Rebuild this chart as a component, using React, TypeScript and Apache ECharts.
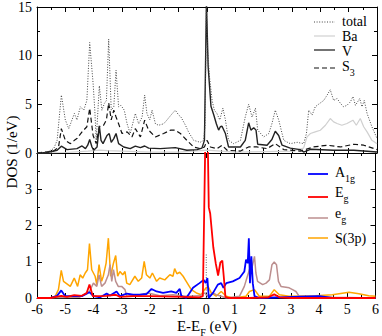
import React, { useEffect, useRef } from "react";
import * as echarts from "echarts";

// ---- Data (energy E-E_F in eV, DOS in 1/eV) ----
const totalDOS: [number, number][] = [
  [-6, 0], [-5.65, 0.1], [-5.41, 0.45], [-5.29, 1.3], [-5.14, 5.95], [-5.0, 3.4], [-4.88, 2.5], [-4.68, 4.06],
  [-4.59, 3.4], [-4.47, 4.75], [-4.35, 4.4], [-4.24, 5.4], [-4.14, 11.35], [-4.02, 7.15], [-3.96, 4.4], [-3.91, 1.3],
  [-3.8, 6.9], [-3.71, 4.4], [-3.62, 5.1], [-3.55, 5.4], [-3.47, 11.7], [-3.38, 4.4], [-3.29, 4.75], [-3.21, 8.5],
  [-3.12, 4.75], [-3.04, 4.9], [-2.92, 4.4], [-2.82, 3.0], [-2.71, 2.0], [-2.53, 4.06], [-2.41, 3.0], [-2.29, 3.7],
  [-2.2, 5.95], [-2.12, 4.06], [-2.02, 3.4], [-1.94, 4.4], [-1.82, 3.0], [-1.71, 2.85], [-1.53, 3.0], [-1.41, 3.4],
  [-1.27, 3.9], [-1.12, 4.4], [-1.0, 3.9], [-0.92, 3.7], [-0.76, 2.85], [-0.65, 2.15], [-0.47, 1.3], [-0.24, 1.1],
  [-0.12, 1.3], [-0.07, 2.7], [-0.02, 15.5], [0.02, 10.6], [0.09, 7.8], [0.18, 5.4], [0.26, 4.4], [0.35, 4.06],
  [0.45, 3.4], [0.56, 4.6], [0.65, 3.4], [0.76, 1.3], [0.94, 0.96], [1.18, 1.3], [1.35, 3.7], [1.47, 5.0],
  [1.59, 3.7], [1.71, 4.6], [1.79, 2.35], [2.0, 1.65], [2.18, 2.0], [2.29, 3.0], [2.41, 4.4], [2.53, 3.4],
  [2.71, 1.3], [2.94, 0.96], [3.18, 1.1], [3.41, 0.96], [3.51, 2.0], [3.59, 4.4], [3.71, 3.9], [3.82, 4.75],
  [3.98, 5.1], [4.12, 5.4], [4.24, 5.95], [4.35, 6.5], [4.47, 5.4], [4.59, 5.6], [4.71, 5.1], [4.82, 4.75],
  [4.94, 4.9], [5.06, 5.25], [5.15, 5.8], [5.24, 4.9], [5.39, 5.6], [5.47, 4.75], [5.55, 5.4], [5.65, 4.06],
  [5.82, 2.7], [6.0, 1.5],
];

const baDOS: [number, number][] = [
  [-6, 0], [-5.0, 0.05], [-4.2, 0.2], [-3.8, 0.3], [-3.5, 0.25], [-3.0, 0.2], [-2.0, 0.1], [-1.0, 0.1],
  [0, 0.3], [0.5, 0.2], [1.0, 0.1], [2.0, 0.15], [3.0, 0.2], [3.41, 0.5], [3.53, 1.65], [3.65, 2.0],
  [3.82, 2.17], [4.0, 2.34], [4.18, 2.85], [4.35, 3.54], [4.47, 3.2], [4.59, 3.03], [4.76, 2.85], [4.94, 3.03],
  [5.15, 3.37], [5.27, 2.85], [5.41, 3.54], [5.53, 2.7], [5.65, 2.17], [5.82, 1.3], [6.0, 0.96],
];

const vDOS: [number, number][] = [
  [-6, 0], [-5.65, 0.05], [-5.29, 0.28], [-5.14, 0.7], [-4.94, 0.35], [-4.59, 0.45], [-4.41, 0.72], [-4.29, 0.45],
  [-4.21, 0.8], [-4.14, 1.38], [-4.06, 0.62], [-4.0, 0.28], [-3.88, 0.62], [-3.8, 2.8], [-3.74, 1.3], [-3.67, 0.96],
  [-3.53, 1.8], [-3.45, 2.0], [-3.38, 1.1], [-3.29, 1.48], [-3.21, 2.0], [-3.12, 0.96], [-2.94, 0.62], [-2.71, 0.45],
  [-2.53, 0.7], [-2.35, 0.55], [-2.2, 0.72], [-2.06, 0.5], [-1.65, 0.45], [-1.12, 0.55], [-0.71, 0.28], [-0.35, 0.35],
  [-0.18, 0.5], [-0.09, 1.3], [-0.02, 15.5], [0.04, 8.9], [0.14, 4.8], [0.24, 3.9], [0.33, 3.0], [0.41, 2.35],
  [0.47, 2.7], [0.53, 2.75], [0.65, 2.0], [0.76, 0.62], [1.18, 0.62], [1.35, 1.3], [1.47, 3.1], [1.55, 2.35],
  [1.65, 2.6], [1.73, 2.35], [1.79, 0.9], [2.12, 0.8], [2.29, 1.38], [2.41, 2.24], [2.53, 1.8], [2.65, 0.8],
  [2.94, 0.5], [3.29, 0.35], [3.41, 0.1], [3.65, 0.38], [4.47, 0.28], [5.18, 0.28], [6.0, 0.1],
];

const s3DOS: [number, number][] = [
  [-6, 0], [-5.41, 0.2], [-5.24, 0.62], [-5.14, 2.5], [-5.0, 1.3], [-4.82, 0.96], [-4.68, 1.3], [-4.59, 1.48],
  [-4.41, 2.17], [-4.24, 2.7], [-4.14, 4.6], [-4.02, 1.8], [-3.91, 0.96], [-3.8, 2.7], [-3.65, 2.85], [-3.55, 3.4],
  [-3.47, 5.15], [-3.38, 3.4], [-3.29, 4.4], [-3.21, 3.7], [-3.12, 3.0], [-3.0, 2.0], [-2.82, 2.17], [-2.65, 1.65],
  [-2.53, 2.5], [-2.35, 1.65], [-2.2, 3.37], [-2.06, 2.34], [-1.82, 1.65], [-1.53, 2.0], [-1.29, 2.34], [-1.12, 2.34],
  [-0.94, 2.0], [-0.71, 1.3], [-0.47, 0.62], [-0.24, 0.45], [-0.09, 0.62], [0.0, 1.3], [0.12, 0.62], [0.35, 0.45],
  [0.53, 0.8], [0.71, 0.28], [1.18, 0.2], [1.47, 0.62], [1.76, 0.62], [2.12, 0.45], [2.41, 0.96], [2.71, 0.35],
  [3.29, 0.2], [3.76, 0.62], [4.24, 0.8], [4.71, 0.62], [5.18, 0.9], [5.53, 0.8], [6.0, 0.35],
];

const a1gDOS: [number, number][] = [
  [-6, 0], [-5.53, 0], [-5.29, 0.06], [-5.14, 0.21], [-5.0, 0.05], [-4.71, 0.05], [-4.41, 0.05], [-4.14, 0.16],
  [-4.0, 0.05], [-3.76, 0.02], [-3.53, 0.12], [-3.41, 0.07], [-3.18, 0.18], [-3.06, 0.05], [-2.82, 0.12], [-2.59, 0.09],
  [-2.35, 0.09], [-2.12, 0.11], [-1.94, 0.25], [-1.76, 0.18], [-1.53, 0.14], [-1.24, 0.18], [-1.06, 0.14], [-0.94, 0.25],
  [-0.88, 0.05], [-0.71, 0], [-0.59, 0.14], [-0.47, 0.28], [-0.24, 0.41], [-0.09, 0.5], [-0.02, 0.41], [0.04, 0.55],
  [0.09, 0], [0.24, 0.14], [0.41, 0.37], [0.53, 0.41], [0.61, 0.28], [0.71, 0.41], [0.94, 0.46], [1.18, 0.55],
  [1.35, 0.73], [1.41, 1.06], [1.47, 0.96], [1.51, 1.65], [1.55, 0.41], [1.6, 1.15], [1.65, 0.41], [1.71, 0.05],
  [1.88, 0], [4.0, 0.05], [4.47, 0], [6.0, 0],
];

const egUpperDOS: [number, number][] = [
  [-6, 0], [-5.53, 0], [-5.14, 0.06], [-4.94, 0.03], [-4.68, 0.08], [-4.41, 0.06], [-4.24, 0.14], [-4.14, 0.37],
  [-4.02, 0.05], [-3.76, 0.05], [-3.53, 0.06], [-3.21, 0.09], [-3.06, 0.03], [-2.59, 0.05], [-2.0, 0.05], [-0.82, 0.03],
  [-0.24, 0.02], [-0.12, 0.05], [-0.03, 4.5], [0.05, 4.5], [0.09, 2.5], [0.14, 2.33], [0.25, 1.4], [0.34, 0.94],
  [0.42, 0.62], [0.5, 0.98], [0.57, 1.03], [0.62, 0.6], [0.68, 0.03], [0.8, 0], [1.5, 0], [2.2, 0.02],
  [2.41, 0.1], [2.6, 0.02], [3.0, 0], [6.0, 0],
];

const egLowerDOS: [number, number][] = [
  [-6, 0], [-4.5, 0.02], [-4.14, 0.18], [-4.0, 0.41], [-3.88, 0.32], [-3.8, 0.64], [-3.71, 0.32], [-3.59, 0.41],
  [-3.47, 0.64], [-3.41, 0.92], [-3.35, 0.46], [-3.29, 0.78], [-3.21, 0.46], [-3.12, 0.32], [-3.0, 0.32], [-2.88, 0.23],
  [-2.82, 0.05], [-2.35, 0.09], [-2.06, 0.14], [-1.65, 0.06], [-1.18, 0.09], [-0.71, 0.05], [-0.24, 0.06], [-0.06, 0.14],
  [0.06, 0.05], [0.24, 0.14], [0.35, 0.09], [0.53, 0.05], [0.71, 0], [1.18, 0.05], [1.35, 0.32], [1.44, 0.55],
  [1.53, 0.78], [1.62, 0.83], [1.71, 1.15], [1.76, 0.69], [1.82, 0.46], [2.0, 0.37], [2.12, 0.41], [2.24, 0.5],
  [2.33, 0.92], [2.41, 0.99], [2.49, 0.92], [2.56, 0.46], [2.65, 0.32], [2.94, 0.28], [3.06, 0.23], [3.18, 0.18],
  [3.29, 0.05], [4.0, 0.05], [4.47, 0.02], [6.0, 0],
];

const s3pDOS: [number, number][] = [
  [-6, 0], [-5.53, 0], [-5.35, 0.05], [-5.24, 0.23], [-5.14, 0.76], [-5.06, 0.46], [-4.82, 0.32], [-4.68, 0.55],
  [-4.56, 0.32], [-4.47, 0.64], [-4.38, 0.55], [-4.29, 0.69], [-4.21, 0.78], [-4.14, 1.5], [-4.06, 0.78], [-3.94, 0.6],
  [-3.88, 0.37], [-3.8, 0.92], [-3.71, 0.46], [-3.65, 0.6], [-3.55, 0.96], [-3.47, 1.65], [-3.39, 0.6], [-3.29, 0.96],
  [-3.21, 1.17], [-3.14, 0.6], [-3.06, 0.73], [-2.96, 0.64], [-2.88, 0.73], [-2.82, 0.41], [-2.71, 0.37], [-2.53, 0.6],
  [-2.41, 0.46], [-2.29, 0.55], [-2.2, 1.01], [-2.12, 0.64], [-2.0, 0.55], [-1.91, 0.69], [-1.76, 0.46], [-1.65, 0.55],
  [-1.47, 0.5], [-1.29, 0.64], [-1.18, 0.6], [-1.12, 0.81], [-1.04, 0.67], [-0.94, 0.71], [-0.82, 0.6], [-0.71, 0.46],
  [-0.53, 0.23], [-0.35, 0.14], [-0.18, 0.09], [-0.06, 0.23], [0.06, 0.32], [0.18, 0.14], [0.35, 0.05], [0.53, 0.18],
  [0.71, 0.05], [0.94, 0], [1.41, 0.05], [1.53, 0.18], [1.71, 0.23], [1.88, 0.05], [2.24, 0.05], [2.41, 0.23],
  [2.59, 0.09], [2.94, 0.05], [3.88, 0.06], [4.47, 0.09], [5.06, 0.16], [5.41, 0.12], [5.76, 0.06], [6.0, 0.05],
];

const fermiMark: [number, number][] = [[0, 0], [0, 1.2]];

const xTicksMin = -6;
const xTicksMax = 6;

const FONT = "Liberation Serif";

export default function App() {
  const ref = useRef<HTMLDivElement>(null);
  useEffect(() => {
    if (!ref.current) return;
    const chart = echarts.init(ref.current, null, { renderer: "svg" });

    const axisLine = { show: true, onZero: false, lineStyle: { color: "#000", width: 1 } };
    const tick = { show: true, inside: true, length: 5, lineStyle: { color: "#000", width: 1 } };
    const minor = { show: true, splitNumber: 2, length: 3, lineStyle: { color: "#000", width: 1 } };
    const lbl = { fontFamily: FONT, fontSize: 14, color: "#000" };

    const xAxis = (gridIndex: number, position: "top" | "bottom", labels: boolean) => ({
      type: "value", gridIndex, position, min: xTicksMin, max: xTicksMax, interval: 1,
      axisLine, axisTick: tick, minorTick: minor, splitLine: { show: false },
      axisLabel: labels ? { ...lbl, margin: 4 } : { show: false },
    });
    const yAxis = (gridIndex: number, position: "left" | "right", max: number, interval: number, labels: boolean, hideMax: boolean) => ({
      type: "value", gridIndex, position, min: 0, max, interval,
      axisLine, axisTick: tick, minorTick: minor, splitLine: { show: false },
      axisLabel: labels ? { ...lbl, margin: 5, formatter: (v: number) => (hideMax && v === max ? "" : String(v)) } : { show: false },
    });

    const line = (name: string, data: [number, number][], xi: number, yi: number, color: string, width: number, type: any, z = 2) => ({
      name, type: "line", data, xAxisIndex: xi, yAxisIndex: yi, symbol: "none", showSymbol: false,
      lineStyle: { color, width, type }, z, silent: true,
    });

    const rich = {
      a: { fontFamily: FONT, fontSize: 14, lineHeight: 14, verticalAlign: "top", fill: "#000" },
      b: { fontFamily: FONT, fontSize: 10, lineHeight: 10, padding: [8, 0, 0, 0], verticalAlign: "top", fill: "#000" },
    };
    const legLine = (x: number, y: number, len: number, color: string, width: number, dash?: number[]) => ({
      type: "line", shape: { x1: x, y1: y, x2: x + len, y2: y },
      style: { stroke: color, lineWidth: width, lineDash: dash },
    });
    const legText = (x: number, y: number, text: string) => ({
      type: "text", x, y,
      style: { text, fontFamily: FONT, fontSize: 14, fill: "#000", verticalAlign: "middle" },
    });
    const legRich = (x: number, yTop: number, text: string) => ({
      type: "text", x, y: yTop,
      style: { text, fontFamily: FONT, fontSize: 14, fill: "#000", verticalAlign: "top", rich },
    });

    chart.setOption({
      animation: false,
      backgroundColor: "#fff",
      grid: [
        { left: 37, top: 6, width: 340, height: 147 },
        { left: 37, top: 153, width: 340, height: 145 },
      ],
      xAxis: [
        xAxis(0, "bottom", false), xAxis(0, "top", false),
        xAxis(1, "bottom", true), xAxis(1, "top", false),
      ],
      yAxis: [
        yAxis(0, "left", 15, 5, true, false), yAxis(0, "right", 15, 5, false, false),
        yAxis(1, "left", 4, 1, true, true), yAxis(1, "right", 4, 1, false, false),
      ],
      series: [
        line("Ba", baDOS, 0, 0, "#d0d0d0", 1.2, "solid"),
        line("S3", s3DOS, 0, 0, "#111", 1.2, [5, 3]),
        line("V", vDOS, 0, 0, "#222", 1.4, "solid"),
        line("total", totalDOS, 0, 0, "#444", 1, [1, 1.6]),
        line("Fermi", fermiMark, 2, 2, "#666", 1, [1, 1.5]),
        line("S(3p)", s3pDOS, 2, 2, "#ffa500", 1.5, "solid"),
        line("eg", egLowerDOS, 2, 2, "#bc8f8f", 1.5, "solid"),
        line("A1g", a1gDOS, 2, 2, "#0000ff", 1.8, "solid"),
        line("Eg", egUpperDOS, 2, 2, "#ff0000", 1.8, "solid"),
      ],
      graphic: [
        legLine(314, 22, 21, "#444", 1, [1, 1.6]),
        legText(342, 21, "total"),
        legLine(314, 36, 21, "#d0d0d0", 1.2),
        legText(342, 36, "Ba"),
        legLine(314, 50, 21, "#444", 1.5),
        legText(342, 51, "V"),
        legLine(314, 68, 21, "#111", 1.2, [5, 3]),
        legRich(342, 59, "{a|S}{b|3}"),

        legLine(308, 174, 20, "#0000ff", 1.8),
        legRich(335, 165, "{a|A}{b|1g}"),
        legLine(308, 197, 20, "#ff0000", 1.8),
        legRich(335, 185, "{a|E}{b|g}"),
        legLine(308, 218, 20, "#bc8f8f", 1.5),
        legRich(335, 206, "{a|e}{b|g}"),
        legLine(308, 238, 20, "#ffa500", 1.5),
        legText(335, 238, "S(3p)"),

        {
          type: "text", x: 12, y: 152, rotation: Math.PI / 2,
          style: { text: "DOS (1/eV)", fontFamily: FONT, fontSize: 15, fill: "#000", align: "center", verticalAlign: "middle" },
        },
        {
          type: "text", x: 207, y: 318,
          style: {
            text: "{a|E-E}{b|F}{a| (eV)}", fontFamily: FONT, fontSize: 15, fill: "#000", align: "center", verticalAlign: "top",
            rich: {
              a: { fontFamily: FONT, fontSize: 15, lineHeight: 15, verticalAlign: "top", fill: "#000" },
              b: { fontFamily: FONT, fontSize: 10, lineHeight: 10, padding: [9, 0, 0, 0], verticalAlign: "top", fill: "#000" },
            },
          },
        },
      ],
    });
    return () => chart.dispose();
  }, []);
  return <div ref={ref} style={{ position: "fixed", left: 0, top: 0, width: 382, height: 336 }} />;
}
